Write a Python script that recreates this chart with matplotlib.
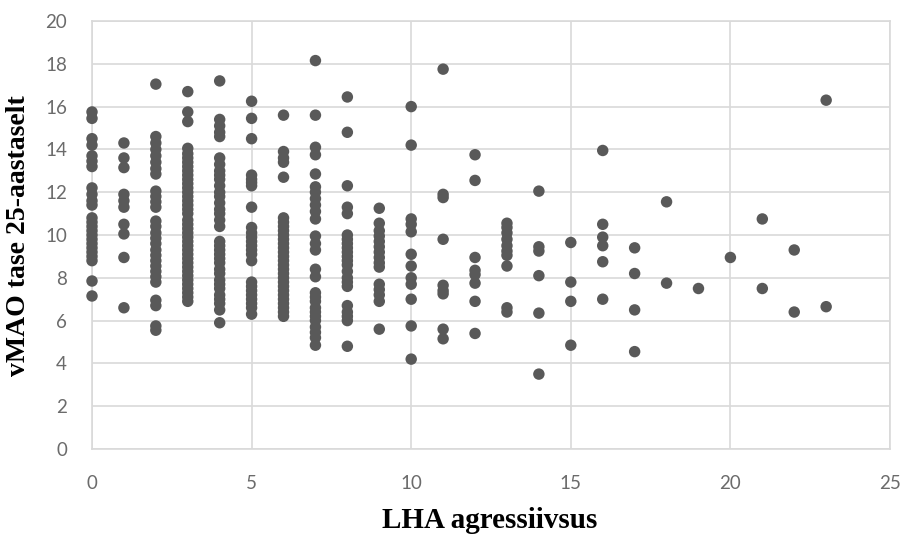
import matplotlib
matplotlib.use("Agg")
import matplotlib.pyplot as plt

# LHA aggression score (x) -> vMAO level at age 25 (y)
x0 = [15.75, 15.45, 14.5, 14.2, 13.7, 13.45, 13.2, 12.2, 11.9, 11.6, 11.4, 10.8, 10.6, 10.4,
      10.2, 10.0, 9.8, 9.6, 9.4, 9.2, 9.0, 8.8, 7.85, 7.15]
x1 = [14.3, 13.6, 13.15, 11.9, 11.6, 11.3, 10.5, 10.05, 8.95, 6.6]
x2 = [17.05, 14.6, 14.3, 14.0, 13.7, 13.4, 13.1, 12.85, 12.05, 11.8, 11.55, 11.3, 10.65, 10.4,
      10.1, 9.85, 9.6, 9.3, 9.05, 8.8, 8.55, 8.3, 8.05, 7.8, 6.95, 6.7, 5.75, 5.55]
x3 = [16.7, 15.75, 15.3, 14.05, 13.8, 13.6, 13.4, 13.2, 13.0, 12.8, 12.6, 12.4, 12.2, 12.0,
      11.8, 11.6, 11.4, 11.2, 11.0, 10.7, 10.5, 10.3, 10.1, 9.9, 9.7, 9.5, 9.3, 9.1, 8.9,
      8.7, 8.5, 8.3, 8.1, 7.9, 7.7, 7.5, 7.3, 7.1, 6.9]
x4 = [17.2, 15.4, 15.1, 14.8, 14.6, 13.6, 13.3, 13.0, 12.8, 12.6, 12.3, 12.0, 11.8, 11.5,
      11.2, 11.0, 10.7, 10.4, 9.7, 9.5, 9.3, 9.1, 8.9, 8.7, 8.4, 8.2, 7.9, 7.7, 7.5, 7.2,
      7.0, 6.8, 6.5, 5.9]
x5 = [16.25, 15.45, 14.5, 12.8, 12.6, 12.45, 12.3, 11.3, 10.35, 10.1, 9.9, 9.7, 9.5, 9.3,
      9.1, 8.8, 7.8, 7.6, 7.4, 7.2, 7.0, 6.8, 6.6, 6.3]
x6 = [15.6, 13.9, 13.6, 13.4, 12.7, 10.8, 10.6, 10.4, 10.2, 10.0, 9.8, 9.6, 9.4, 9.2, 9.0,
      8.8, 8.6, 8.4, 8.2, 8.0, 7.8, 7.6, 7.4, 7.2, 7.0, 6.8, 6.6, 6.4, 6.2]
x7 = [18.15, 15.6, 14.1, 13.75, 12.85, 12.25, 12.0, 11.7, 11.4, 11.1, 10.75, 9.95, 9.6,
      9.3, 8.4, 8.05, 7.3, 7.1, 6.9, 6.6, 6.4, 6.2, 6.0, 5.7, 5.45, 5.2, 4.85]
x8 = [16.45, 14.8, 12.3, 11.3, 11.0, 10.0, 9.8, 9.6, 9.4, 9.2, 9.0, 8.8, 8.6, 8.3, 8.0,
      7.8, 7.6, 6.7, 6.4, 6.2, 6.0, 4.8]
x9 = [11.25, 10.55, 10.2, 9.95, 9.7, 9.45, 9.2, 8.95, 8.7, 8.5, 7.7, 7.45, 7.2, 6.9, 5.6]
x10 = [16.0, 14.2, 10.75, 10.5, 10.15, 9.1, 8.55, 8.0, 7.7, 7.0, 5.75, 4.2]
x11 = [17.75, 11.9, 11.75, 9.8, 7.65, 7.4, 7.25, 5.6, 5.15]
x12 = [13.75, 12.55, 8.95, 8.35, 8.15, 7.75, 6.9, 5.4]
x13 = [10.55, 10.35, 10.1, 9.8, 9.5, 9.25, 9.05, 8.55, 6.6, 6.4]
x14 = [12.05, 9.45, 9.25, 8.1, 6.35, 3.5]
x15 = [9.65, 7.8, 6.9, 4.85]
x16 = [13.95, 10.5, 9.9, 9.5, 8.75, 7.0]
x17 = [9.4, 8.2, 6.5, 4.55]
x18 = [11.55, 7.75]
x19 = [7.5]
x20 = [8.95]
x21 = [10.75, 7.5]
x22 = [9.3, 6.4]
x23 = [16.3, 6.65]

columns = [x0, x1, x2, x3, x4, x5, x6, x7, x8, x9, x10, x11, x12, x13, x14, x15, x16,
           x17, x18, x19, x20, x21, x22, x23]

xs, ys = [], []
for k, col in enumerate(columns):
    xs.extend([k] * len(col))
    ys.extend(col)

W, H = 905, 536
fig = plt.figure(figsize=(W / 100, H / 100), dpi=100)
ax = fig.add_axes([92 / W, 1 - 449 / H, (890 - 92) / W, (449 - 21) / H])

ax.scatter(xs, ys, s=68, color="#595959", edgecolors="none", zorder=3, clip_on=False)

ax.set_xlim(0, 25)
ax.set_ylim(0, 20)
ax.set_xticks(range(0, 26, 5))
ax.set_yticks(range(0, 21, 2))
ax.grid(True, color="#d9d9d9", linewidth=1.2, zorder=0)
for s in ax.spines.values():
    s.set_color("#d9d9d9")
    s.set_linewidth(1.2)
ax.tick_params(axis="both", length=0, labelcolor="#6b6b6b", labelsize=13.5)
ax.tick_params(axis="x", pad=19)
ax.tick_params(axis="y", pad=18)
for lab in ax.get_xticklabels() + ax.get_yticklabels():
    lab.set_family("Lato")

fig.text(490 / W, 1 - 520 / H, "LHA agressiivsus", ha="center", va="center",
         fontsize=21, fontweight="bold", family="Liberation Serif")
fig.text(19 / W, 1 - 236 / H, "vMAO tase 25-aastaselt", ha="center", va="center",
         rotation=90, fontsize=20, fontweight="bold", family="Liberation Serif")

fig.savefig("out.png", dpi=100)
